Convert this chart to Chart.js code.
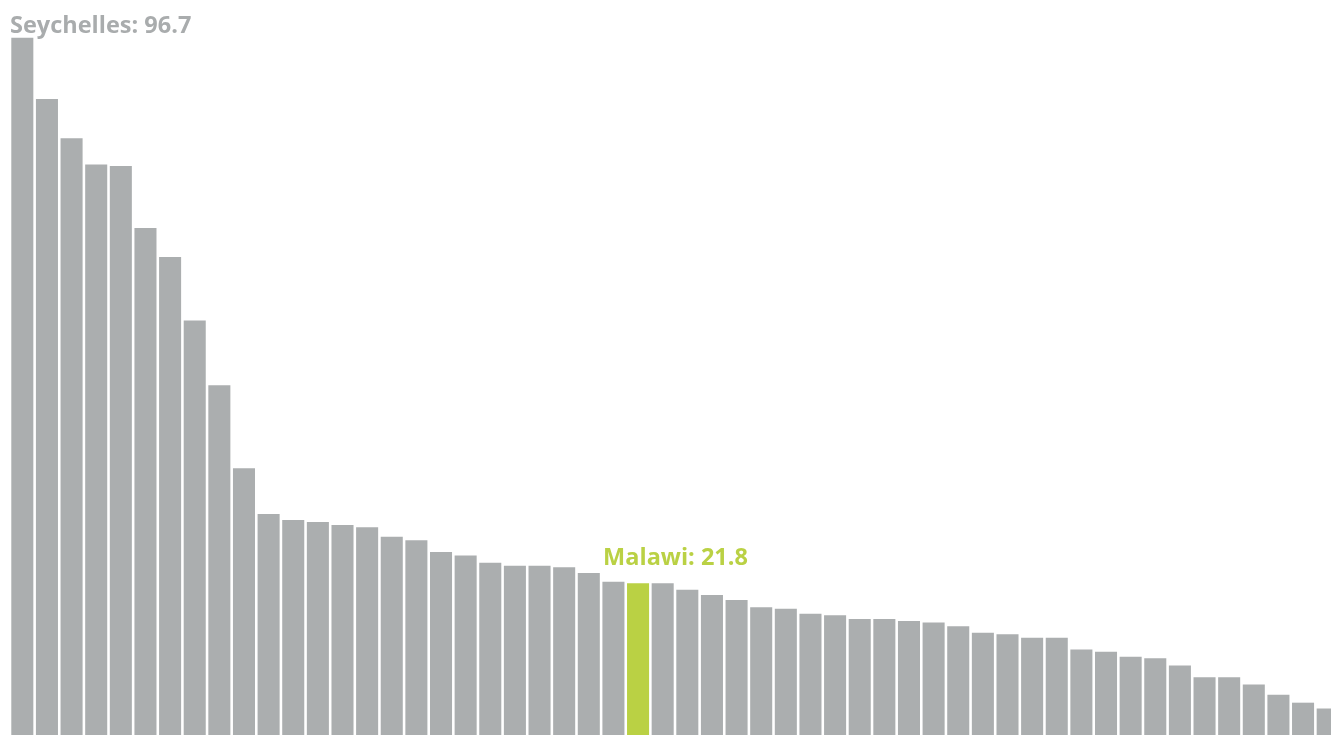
<!DOCTYPE html>
<html>
<head>
<meta charset="utf-8">
<script src="https://cdn.jsdelivr.net/npm/chart.js@4.4.1/dist/chart.umd.min.js"></script>
<style>
    html, body { margin: 0; padding: 0; background: #fff; overflow: hidden; }
    #wrap { width: 1340px; height: 742px; position: relative; }
</style>
</head>
<body>
<div id="wrap"><canvas id="chart"></canvas></div>
<script>
// Valeurs (pays triés par ordre décroissant)
const countries = [
    'Seychelles', 'P2', 'P3', 'P4', 'P5', 'P6', 'P7', 'P8', 'P9', 'P10',
    'P11', 'P12', 'P13', 'P14', 'P15', 'P16', 'P17', 'P18', 'P19', 'P20',
    'P21', 'P22', 'P23', 'P24', 'P25', 'Malawi', 'P27', 'P28', 'P29', 'P30',
    'P31', 'P32', 'P33', 'P34', 'P35', 'P36', 'P37', 'P38', 'P39', 'P40',
    'P41', 'P42', 'P43', 'P44', 'P45', 'P46', 'P47', 'P48', 'P49', 'P50',
    'P51', 'P52', 'P53', 'P54'
];
const values = [
    96.7, 88.3, 82.9, 79.3, 79.1, 70.6, 66.6, 57.9, 49.0, 37.6,
    31.3, 30.5, 30.2, 29.8, 29.5, 28.2, 27.7, 26.1, 25.6, 24.6,
    24.2, 24.2, 24.0, 23.2, 22.0, 21.8, 21.8, 20.9, 20.2, 19.5,
    18.5, 18.3, 17.6, 17.4, 16.9, 16.9, 16.6, 16.4, 15.9, 15.0,
    14.8, 14.3, 14.3, 12.7, 12.4, 11.7, 11.5, 10.5, 8.9, 8.9,
    7.9, 6.5, 5.4, 4.6
];
const highlight = 'Malawi';

const GREY = '#abaeaf';
const GREEN = '#bad144';

// Etiquettes au-dessus des barres
const labelPlugin = {
    id: 'barLabels',
    afterDatasetsDraw(chart) {
        const ctx = chart.ctx;
        const x = chart.scales.x;
        const y = chart.scales.y;
        const step = x.getPixelForValue(1) - x.getPixelForValue(0);
        ctx.save();
        ctx.font = 'bold 23.5px "Open Sans"';
        ctx.textBaseline = 'alphabetic';
        ctx.textAlign = 'left';

        // Premier pays
        ctx.fillStyle = '#a9acad';
        ctx.fillText(countries[0] + ': ' + values[0].toFixed(1),
            x.getPixelForValue(0) - step / 2, y.getPixelForValue(values[0]) - 5);

        // Pays mis en avant
        const i = countries.indexOf(highlight);
        ctx.fillStyle = GREEN;
        ctx.fillText(highlight + ': ' + values[i].toFixed(1),
            x.getPixelForValue(i - 1) - step / 2 + 2, y.getPixelForValue(values[i]) - 18);
        ctx.restore();
    }
};

new Chart(document.getElementById('chart'), {
    type: 'bar',
    data: {
        labels: countries,
        datasets: [{
            data: values,
            backgroundColor: countries.map(c => c === highlight ? GREEN : GREY),
            borderWidth: 0,
            barPercentage: 0.895,
            categoryPercentage: 1
        }]
    },
    options: {
        responsive: true,
        maintainAspectRatio: false,
        animation: false,
        layout: { padding: { left: 10, right: 0, top: 0, bottom: 0 } },
        plugins: {
            legend: { display: false },
            tooltip: { enabled: false }
        },
        scales: {
            x: { display: false },
            y: { display: false, min: 0, max: 101.9 }
        }
    },
    plugins: [labelPlugin]
});
</script>
</body>
</html>
